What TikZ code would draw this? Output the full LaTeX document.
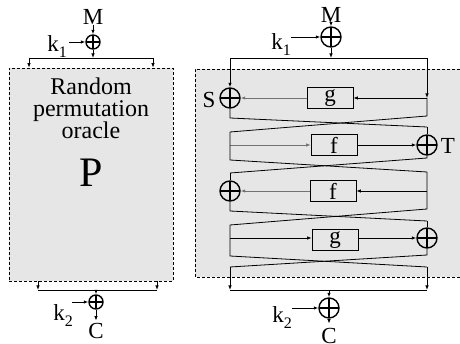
\documentclass[tikz,border=0pt]{standalone}
\usepackage{fontspec}
\setmainfont{Liberation Serif}
\usetikzlibrary{arrows.meta}
\definecolor{bg}{RGB}{230,230,230}
\newcommand{\kk}[1]{k\raisebox{-6pt}{\fontsize{16}{16}\selectfont #1}}
\begin{document}
\begin{tikzpicture}[x=1pt,y=-1pt,
  ln/.style={line width=0.8pt},
  arr/.style={ln,-{Latex[length=4.5pt,width=3.5pt]}},
  gr/.style={draw=black!55},
  xs/.style={circle,draw,line width=1.4pt,minimum size=#1,inner sep=0pt,
     path picture={\draw[line width=1.4pt] (path picture bounding box.north)--(path picture bounding box.south) (path picture bounding box.west)--(path picture bounding box.east);}},
  fbox/.style={draw,ln,minimum width=46pt,minimum height=21pt,inner sep=0pt,font=\fontsize{23}{23}\selectfont},
  lbl/.style={inner sep=0pt,font=\fontsize{23}{23}\selectfont},
  dsh/.style={ln,dash pattern=on 3pt off 2pt},
]
\useasboundingbox (0,0) rectangle (460,344);
% ---------- left panel ----------
\node[fill=bg,dsh,draw,minimum width=164pt,minimum height=213pt,inner sep=0pt] (P) at (91,174.5) {};
\node[lbl,align=center,font=\fontsize{24}{22}\selectfont] (rp) at (91,108) {Random\\permutation\\oracle};
\node[inner sep=0pt,font=\fontsize{42}{42}\selectfont] (Pl) at (91,173) {P};
\node[lbl] (M1) at (93,17) {M};
\node[xs=14pt] (x1) at (93,42) {};
\node[lbl,anchor=east] (k1) at (67,47) {\kk{1}};
\draw[arr] (M1) -- (x1);
\draw[arr,shorten <=2pt] (k1.east |- x1) -- (x1);
\coordinate (la) at (29,58);
\coordinate (lb) at (153,58);
\coordinate (lc) at (93,58);
\draw[arr] (x1) -- (lc);
\draw[ln] (la) -- (lb);
\draw[arr] (la) -- (la |- P.north);
\draw[arr] (lb) -- (lb |- P.north);
\coordinate (ld) at (38,290);
\coordinate (le) at (157,290);
\coordinate (lf) at (96,290);
\draw[arr] (ld |- P.south) -- (ld);
\draw[arr] (le |- P.south) -- (le);
\draw[ln] (ld) -- (le);
\node[xs=14pt] (x2) at (96,302) {};
\draw[arr] (lf) -- (x2);
\node[lbl,anchor=east] (k2) at (73,316) {\kk{2}};
\draw[arr] (72,302) -- (x2);
\node[lbl,anchor=base] (C1) at (96,338) {C};
\draw[arr,shorten >=2pt] (x2) -- (C1);
% ---------- right panel ----------
\fill[bg] (195,69) rectangle (460,277);
\draw[dsh] (460,69) -- (195,69) -- (195,277) -- (460,277);
\node[lbl] (M2) at (331,15) {M};
\node[xs=20pt] (X0) at (331,37) {};
\node[lbl,anchor=east] (k1b) at (291,45) {\kk{1}};
\draw[arr] (M2) -- (X0);
\draw[arr] (k1b.east |- X0) -- (X0);
\coordinate (T0) at (331,58);
\coordinate (L0) at (230,58);
\coordinate (R0) at (427,58);
\draw[arr] (X0) -- (T0);
\draw[ln] (L0) -- (R0);
% round 1
\node[xs=20pt] (XS) at (230,98) {};
\node[lbl] (S) at (209,100) {S};
\node[fbox] (g1) at (330,98) {g};
\coordinate (RA) at (427,98);
\draw[arr] (L0) -- (XS);
\draw[arr] (R0) -- (RA);
\draw[arr] (RA) -- (g1);
\draw[arr,gr] (g1) -- (XS);
\coordinate (L1t) at (230,118);
\coordinate (R1t) at (427,116);
\coordinate (L1b) at (230,132);
\coordinate (R1b) at (427,127);
\draw[ln] (XS) -- (L1t) -- (R1b);
\draw[ln] (RA) -- (R1t) -- (L1b);
% round 2
\node[xs=20pt] (XT) at (427,145) {};
\node[lbl] (T) at (448,146) {T};
\node[fbox] (f1) at (334,145) {f};
\coordinate (LB) at (230,145);
\coordinate (L2t) at (230,160);
\coordinate (R2t) at (427,158);
\coordinate (L2b) at (230,173);
\coordinate (R2b) at (427,172);
\draw[arr,gr] (LB) -- (f1);
\draw[arr] (f1) -- (XT);
\draw[ln] (R1b) -- (XT);
\draw[ln] (L1b) -- (L2t) -- (R2b);
\draw[ln] (XT) -- (R2t) -- (L2b);
% round 3
\node[xs=20pt] (XL3) at (230,191) {};
\node[fbox] (f2) at (333,191) {f};
\coordinate (RC) at (427,191);
\coordinate (L3t) at (230,211);
\coordinate (R3t) at (427,209);
\coordinate (L3b) at (230,225);
\coordinate (R3b) at (427,221);
\draw[ln] (L2b) -- (XL3);
\draw[arr] (RC) -- (f2);
\draw[arr,gr] (f2) -- (XL3);
\draw[ln] (R2b) -- (R3t) -- (L3b);
\draw[ln] (XL3) -- (L3t) -- (R3b);
% round 4
\node[xs=20pt] (XR4) at (427,238) {};
\node[fbox] (g2) at (335,240) {g};
\coordinate (LD) at (230,238);
\coordinate (L4t) at (230,256);
\coordinate (R4t) at (427,255);
\coordinate (L4b) at (230,267);
\coordinate (R4b) at (427,267);
\draw[arr] (LD) -- (LD -| g2.west);
\draw[arr] (LD -| g2.east) -- (XR4);
\draw[ln] (R3b) -- (XR4);
\draw[ln] (L3b) -- (L4t) -- (R4b);
\draw[ln] (XR4) -- (R4t) -- (L4b);
% output
\coordinate (LE) at (230,290);
\coordinate (RE) at (427,290);
\coordinate (CE) at (329,290);
\draw[arr] (L4b) -- (LE);
\draw[arr] (R4b) -- (RE);
\draw[ln] (LE) -- (RE);
\node[xs=20pt] (XB) at (329,308) {};
\draw[arr] (CE) -- (XB);
\node[lbl,anchor=east] (k2b) at (292,318) {\kk{2}};
\draw[arr] (k2b.east |- XB) -- (XB);
\node[lbl,anchor=base] (C2) at (329,343) {C};
\draw[arr,shorten >=4pt] (XB) -- (C2);
\end{tikzpicture}
\end{document}
